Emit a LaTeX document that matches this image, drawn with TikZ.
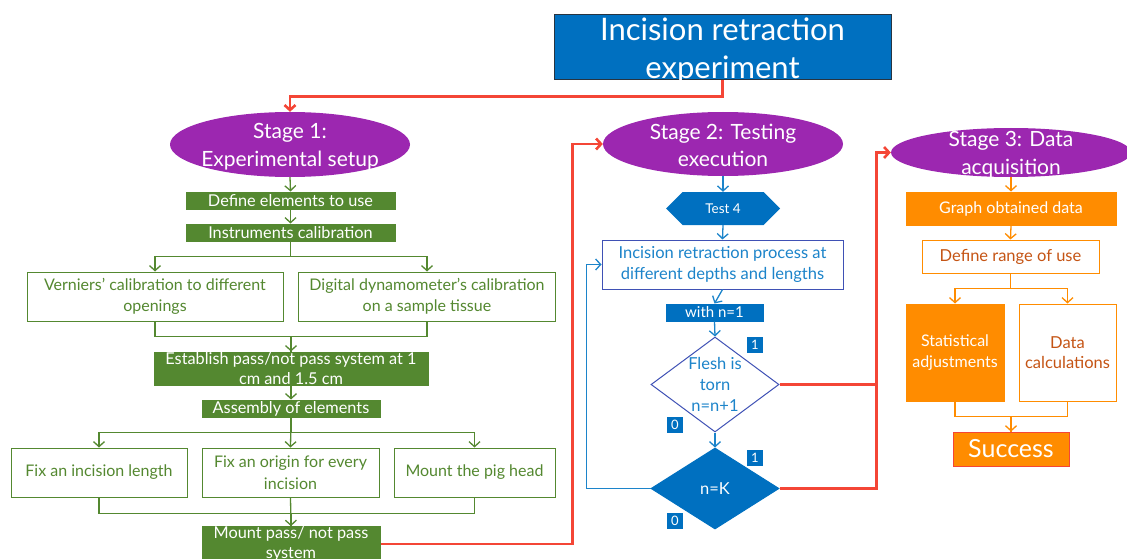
\documentclass[tikz,border=0pt]{standalone}
\usepackage{fontspec}
\setmainfont{Lato}
\usetikzlibrary{arrows.meta,shapes.geometric,shapes.symbols}
\definecolor{tBlue}{RGB}{0,112,192}
\definecolor{lBlue}{RGB}{28,132,202}
\definecolor{iBlue}{RGB}{63,81,181}
\definecolor{sPurple}{RGB}{156,39,176}
\definecolor{gGreen}{RGB}{84,136,48}
\definecolor{rRed}{RGB}{244,70,54}
\definecolor{oOrange}{RGB}{255,140,0}
\definecolor{oText}{RGB}{197,84,20}
\definecolor{tBorder}{RGB}{40,52,64}
\newcommand{\lift}[1]{\rule{0pt}{#1}}
\tikzset{
  base/.style={draw, line width=1pt, inner sep=0pt, align=center},
  tbox/.style={base, inner ysep=-12pt, fill=tBlue, draw=tBorder, text=white, font=\fontsize{31}{38}\selectfont},
  stage/.style={ellipse, fill=sPurple, text=white, inner sep=-12pt, align=center, font=\fontsize{21}{27.5}\selectfont},
  gfill/.style={base, fill=gGreen, draw=gGreen, text=white, font=\fontsize{16.3}{20}\selectfont},
  gwhite/.style={base, fill=white, draw=gGreen, text=gGreen, font=\fontsize{16}{21.5}\selectfont},
  bfill/.style={base, fill=tBlue, draw=tBlue, text=white, font=\fontsize{15}{18}\selectfont},
  bwhite/.style={base, fill=white, draw=iBlue, text=lBlue, font=\fontsize{16.5}{20.5}\selectfont},
  hexa/.style={signal, signal to=west and east, signal pointer angle=90, fill=tBlue, text=white, inner sep=0pt, font=\fontsize{13.5}{15}\selectfont},
  dia/.style={diamond, aspect=1.35, inner sep=-10pt, line width=1pt, align=center, font=\fontsize{16.5}{21}\selectfont},
  flag/.style={fill=tBlue, text=white, inner sep=0pt, minimum width=16pt, minimum height=16pt, font=\fontsize{13}{15}\selectfont},
  ofill/.style={base, fill=oOrange, draw=oOrange, text=white, font=\fontsize{16}{20.5}\selectfont},
  owhite/.style={base, fill=white, draw=oOrange, text=oText, font=\fontsize{16.5}{20.5}\selectfont},
  tip/.style={-{Straight Barb[length=5pt,width=11pt]}},
  gline/.style={draw=gGreen, line width=1.3pt},
  bline/.style={draw=lBlue, line width=1.3pt},
  oline/.style={draw=oOrange, line width=1.3pt},
  rline/.style={draw=rRed, line width=2.6pt},
  rtip/.style={-{Straight Barb[length=5pt,width=11pt]}},
}
\begin{document}
\begin{tikzpicture}[x=1pt,y=-1pt]
\useasboundingbox (0,0) rectangle (1127,559);
% title
\node[tbox, minimum width=337pt, minimum height=65pt] (title) at (722.5,47.5) {\lift{29pt}Incision retraction\\experiment};
% stage 1
\node[stage, minimum width=240pt, minimum height=65pt] (s1) at (290,144.5) {\lift{20pt}Stage 1:\\Experimental setup};
\node[gfill, minimum width=209pt, minimum height=17pt] (def) at (290.5,200.5) {Define elements to use};
\node[gfill, minimum width=209pt, minimum height=17pt] (inst) at (290.5,232.5) {Instruments calibration};
\node[gwhite, minimum width=256pt, minimum height=49pt] (vern) at (155,296.5) {Verniers' calibration to different\\openings};
\node[gwhite, minimum width=257pt, minimum height=49pt] (digi) at (427,296.5) {Digital dynamometer's calibration\\on a sample tissue};
\node[gfill, minimum width=274pt, minimum height=33pt] (est) at (291,368.5) {Establish pass/not pass system at 1\\cm and 1.5 cm};
\node[gfill, minimum width=178pt, minimum height=17pt] (asm) at (291,408.5) {Assembly of elements};
\node[gwhite, minimum width=176pt, minimum height=49pt] (fil) at (99,472.5) {Fix an incision length};
\node[gwhite, minimum width=177pt, minimum height=49pt] (fio) at (290.5,472.5) {Fix an origin for every\\incision};
\node[gwhite, minimum width=161pt, minimum height=49pt] (mph) at (474.5,472.5) {Mount the pig head};
\node[gfill, minimum width=178pt, minimum height=32pt] (mpp) at (291,544) {Mount pass/ not pass\\system};
% stage 2
\node[stage, minimum width=240pt, minimum height=64pt] (s2) at (723,144) {\lift{18pt}Stage 2: Testing\\execution};
\node[hexa, minimum width=114pt, minimum height=33pt] (t4) at (723,208.5) {Test 4};
\node[bwhite, minimum width=241pt, minimum height=49pt] (irp) at (722.5,264.5) {Incision retraction process at\\different depths and lengths};
\node[bfill, minimum width=97pt, minimum height=17pt] (wn1) at (714.5,312.5) {with n=1};
\node[dia, fill=white, draw=iBlue, text=lBlue, minimum width=128pt, minimum height=95pt] (d1) at (715,384.5) {Flesh is\\torn\\n=n+1};
\node[dia, fill=tBlue, draw=tBlue, text=white, minimum width=128pt, minimum height=81pt] (d2) at (715,488.5) {n=K};
\node[flag] (l1a) at (755,345) {1};
\node[flag] (l0a) at (675,424.5) {0};
\node[flag] (l1b) at (755,457.5) {1};
\node[flag] (l0b) at (675,521) {0};
% stage 3
\node[stage, minimum width=240pt, minimum height=49pt] (s3) at (1011,152.5) {\lift{20pt}Stage 3: Data\\acquisition};
\node[ofill, minimum width=210pt, minimum height=33pt] (god) at (1011,208.5) {Graph obtained data};
\node[owhite, minimum width=177pt, minimum height=33pt] (drou) at (1010.5,256.5) {Define range of use};
\node[ofill, minimum width=98pt, minimum height=97pt] (sa) at (955,352.5) {Statistical\\adjustments};
\node[owhite, minimum width=97pt, minimum height=97pt] (dc) at (1067.5,352.5) {Data\\calculations};
\node[base, fill=oOrange, draw=rRed, line width=0.8pt, text=white, minimum width=116pt, minimum height=34pt, font=\fontsize{25}{28}\selectfont] (suc) at (1011,449) {Success};
% green connectors
\draw[gline, tip] (s1.south) -- (def.north);
\draw[gline, tip] (def.south) -- (inst.north);
\draw[gline, tip] (inst.south) -- ++(0,15) -| (vern.north);
\draw[gline, tip] (inst.south) -- ++(0,15) -| (digi.north);
\draw[gline] (vern.south) -- ++(0,15) -| (est.north);
\draw[gline, tip] (digi.south) -- ++(0,15) -| (est.north);
\draw[gline, tip] (est.south) -- (asm.north);
\draw[gline, tip] (asm.south) -- ++(0,15) -| (fil.north);
\draw[gline, tip] (asm.south) -- (fio.north);
\draw[gline, tip] (asm.south) -- ++(0,15) -| (mph.north);
\draw[gline] (fil.south) -- ++(0,16) -| (mpp.north);
\draw[gline] (mph.south) -- ++(0,16) -| (mpp.north);
\draw[gline, tip] (fio.south) -- (mpp.north);
% blue connectors
\draw[bline, tip] (s2.south) -- (t4.north);
\draw[bline, tip] (t4.south) -- (irp.north);
\draw[bline, tip] (irp.south) -- (wn1.north);
\draw[bline, tip] (wn1.south) -- (d1.north);
\draw[bline, tip] (d1.south) -- (d2.north);
\draw[bline, tip] (d2.west) -- ++(-64,0) |- (irp.west);
% orange connectors
\draw[oline, tip] (s3.south) -- (god.north);
\draw[oline, tip] (god.south) -- (drou.north);
\draw[oline, tip] (drou.south) -- ++(0,15) -| (sa.north);
\draw[oline, tip] (drou.south) -- ++(0,15) -| (dc.north);
\draw[oline] (sa.south) -- ++(0,15) -| (suc.north);
\draw[oline, tip] (dc.south) -- ++(0,15) -| (suc.north);
% red connectors
\draw[rline, rtip] (title.south) -- ++(0,16) -| (s1.north);
\draw[rline, rtip] (mpp.east) -- ++(192,0) |- (s2.west);
\draw[rline, rtip] (d1.east) -- ++(97,0) |- (s3.west);
\draw[rline] (d2.east) -- ++(97,0) |- (d1.east);
\end{tikzpicture}
\end{document}
